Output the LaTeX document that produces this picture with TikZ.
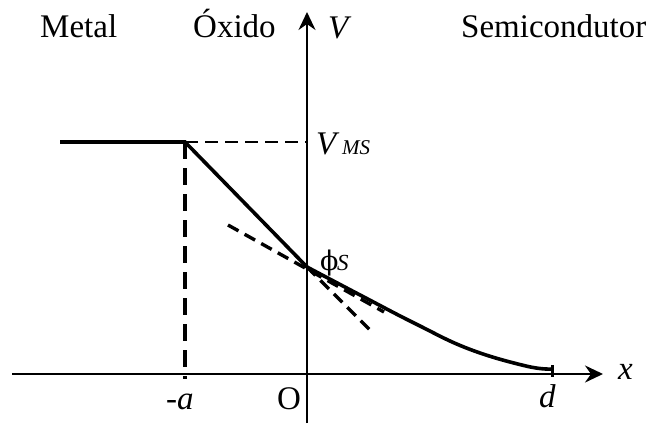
\documentclass[tikz,border=0pt]{standalone}
\usepackage{fontspec}
\setmainfont{Liberation Serif}
\newfontfamily\phifont{DejaVu Serif}
\usetikzlibrary{arrows.meta}
\begin{document}
\begin{tikzpicture}[x=1pt,y=-1pt,
  axis/.style={line width=2.6pt,-{Stealth[length=18pt,width=17pt,inset=6pt]}},
  thick line/.style={line width=3.6pt},
  dashA/.style={line width=2.4pt,dash pattern=on 13pt off 7pt},
  dashV/.style={line width=4pt,dash pattern=on 17pt off 9pt},
  dashT/.style={line width=3.4pt,dash pattern=on 12pt off 7pt},
  lbl/.style={inner sep=0pt,anchor=base west,font=\fontsize{33}{36}\selectfont},
  sublbl/.style={inner sep=0pt,anchor=base west,font=\fontsize{21}{24}\selectfont\itshape}]
\useasboundingbox (0,0) rectangle (652,423);
% key points
\coordinate (xs) at (12,374);
\coordinate (xe) at (603,374);
\coordinate (ys) at (307,423);
\coordinate (ye) at (307,12);
\coordinate (m0) at (60,142);
\coordinate (ma) at (185,142);
\coordinate (vms) at (307,142);
\coordinate (aax) at (185,379);
\coordinate (phi) at (307,267);
\coordinate (t0) at (228,225);
\coordinate (t1) at (384,312);
\coordinate (s1) at (370,330);
\coordinate (d) at (552,369);
\coordinate (dt0) at (552,365);
\coordinate (dt1) at (552,377);
% axes
\draw[axis] (xs) -- (xe);
\draw[axis] (ys) -- (ye);
% dashed
\draw[dashA] (ma) -- (vms);
\draw[dashV] (ma) -- (aax);
\draw[dashT] (t0) -- (t1);
\draw[dashT] (phi) -- (s1);
% solid potential
\draw[thick line,line join=miter] (m0) -- (ma) -- (phi);
\draw[thick line] plot[smooth,tension=0.7] coordinates
  {(phi) (362,296) (416,324) (469,349) (526,366) (d)};
\draw[line width=3pt] (dt0) -- (dt1);
% labels
\node[lbl] (metal) at (40,37) {Metal};
\node[lbl] (oxido) at (193,37) {Óxido};
\node[lbl] (semi) at (461,37) {Semicondutor};
\node[lbl,font=\fontsize{33}{36}\selectfont\itshape] (V) at (328,38) {V};
\node[lbl,font=\fontsize{33}{36}\selectfont\itshape] (vmsl) at (316,154) {V};
\node[sublbl] (ms) at (342,154) {MS};
\node[lbl,font=\fontsize{27}{30}\phifont\mdseries] (phil) at (320,270) {ϕ};
\node[sublbl,font=\fontsize{23}{24}\selectfont\itshape] (sl) at (337,270) {S};
\node[lbl,font=\fontsize{33}{36}\selectfont\itshape] (al) at (166,409) {-a};
\node[lbl] (ol) at (277,409) {O};
\node[lbl,font=\fontsize{33}{36}\selectfont\itshape] (dl) at (539,407) {d};
\node[lbl,font=\fontsize{33}{36}\selectfont\itshape] (xl) at (618,379) {x};
\end{tikzpicture}
\end{document}
